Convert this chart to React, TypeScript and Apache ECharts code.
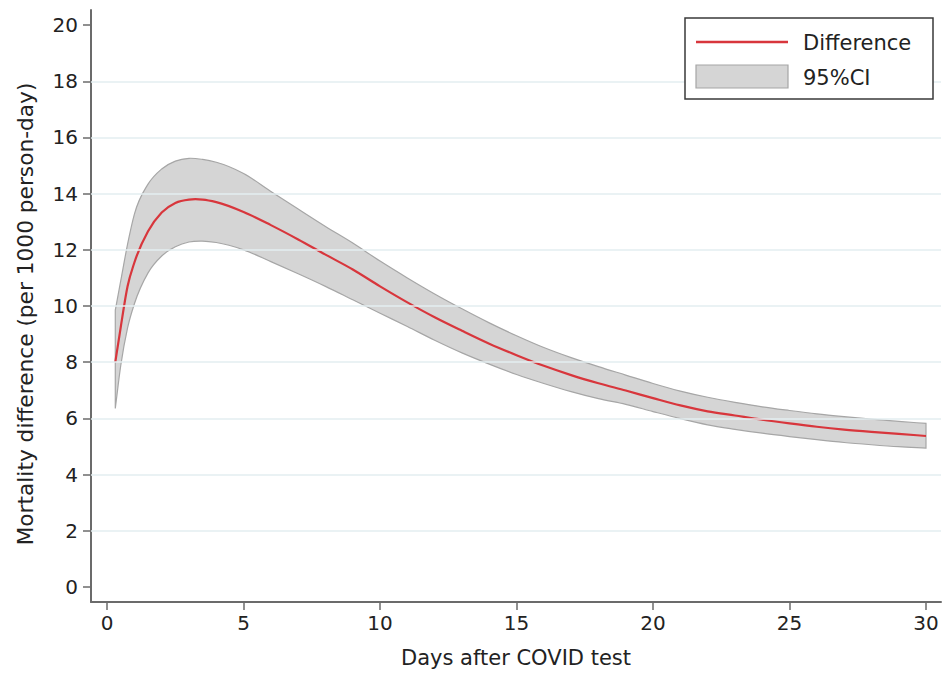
import React, { useEffect, useRef } from "react";
import * as echarts from "echarts";

const days = [0.3, 0.5, 0.75, 1, 1.5, 2, 2.5, 3, 3.5, 4, 5, 6, 7, 8, 9, 10, 11, 12, 13, 14, 15, 16, 17, 18, 19, 20, 21, 22, 23, 24, 25, 26, 27, 28, 29, 30];
const difference = [8.0, 9.25, 10.7, 11.55, 12.66, 13.33, 13.67, 13.79, 13.79, 13.7, 13.35, 12.88, 12.37, 11.83, 11.3, 10.7, 10.13, 9.6, 9.12, 8.66, 8.25, 7.87, 7.54, 7.25, 6.99, 6.72, 6.46, 6.25, 6.1, 5.95, 5.82, 5.7, 5.6, 5.52, 5.45, 5.37];
const ciUpper = [9.85, 10.9, 12.2, 13.27, 14.34, 14.88, 15.16, 15.26, 15.22, 15.12, 14.72, 14.08, 13.45, 12.83, 12.24, 11.6, 11.0, 10.43, 9.9, 9.4, 8.94, 8.52, 8.16, 7.84, 7.54, 7.24, 6.97, 6.75, 6.57, 6.41, 6.28, 6.16, 6.06, 5.97, 5.89, 5.82];
const ciLower = [6.35, 7.88, 9.22, 10.08, 11.18, 11.78, 12.11, 12.28, 12.31, 12.26, 12.0, 11.58, 11.15, 10.7, 10.22, 9.74, 9.27, 8.78, 8.33, 7.93, 7.56, 7.24, 6.95, 6.7, 6.5, 6.24, 5.99, 5.77, 5.61, 5.47, 5.35, 5.24, 5.14, 5.06, 4.99, 4.94];
const xTicks = [0, 5, 10, 15, 20, 25, 30];
const yTicks = [0, 2, 4, 6, 8, 10, 12, 14, 16, 18, 20];
const gridValues = [2, 4, 6, 8, 10, 12, 14, 16, 18];
const seriesNames = ["Difference", "95%CI"];

const FONT = "DejaVu Sans";
const AXIS_COLOR = "#6b6b6b";
const TEXT_COLOR = "#222222";
const RED = "#d8363c";
const BAND_FILL = "#d5d5d5";
const BAND_EDGE = "#a6a6a6";

type Pt = [number, number];

// Smooth (Hermite, x-parameterised) path segments through pixel points.
function smoothSegments(pts: Pt[]): string {
  const n = pts.length;
  const m: number[] = new Array(n);
  for (let i = 0; i < n; i++) {
    if (i === 0) {
      m[i] = (pts[1][1] - pts[0][1]) / (pts[1][0] - pts[0][0]);
    } else if (i === n - 1) {
      m[i] = (pts[n - 1][1] - pts[n - 2][1]) / (pts[n - 1][0] - pts[n - 2][0]);
    } else {
      const h0 = pts[i][0] - pts[i - 1][0];
      const h1 = pts[i + 1][0] - pts[i][0];
      const s0 = (pts[i][1] - pts[i - 1][1]) / h0;
      const s1 = (pts[i + 1][1] - pts[i][1]) / h1;
      m[i] = (s0 * h1 + s1 * h0) / (h0 + h1);
    }
  }
  let d = "";
  for (let i = 0; i < n - 1; i++) {
    const [x0, y0] = pts[i];
    const [x1, y1] = pts[i + 1];
    const h = x1 - x0;
    const c1x = x0 + h / 3;
    const c1y = y0 + (m[i] * h) / 3;
    const c2x = x1 - h / 3;
    const c2y = y1 - (m[i + 1] * h) / 3;
    d += ` C ${c1x} ${c1y} ${c2x} ${c2y} ${x1} ${y1}`;
  }
  return d;
}

export default function App() {
  const ref = useRef<HTMLDivElement>(null);

  useEffect(() => {
    if (!ref.current) return;
    const chart = echarts.init(ref.current, undefined, { renderer: "svg" });

    const option: any = {
      animation: false,
      backgroundColor: "#ffffff",
      grid: { left: 91, right: 7, top: 10, bottom: 70, containLabel: false },
      xAxis: {
        type: "value",
        min: -0.59,
        max: 30.55,
        name: "Days after COVID test",
        nameLocation: "middle",
        nameGap: 45,
        nameTextStyle: { fontFamily: FONT, fontSize: 21, color: TEXT_COLOR },
        axisLine: { show: true, onZero: false, lineStyle: { color: AXIS_COLOR, width: 2 } },
        axisTick: { show: true, length: 8, customValues: xTicks, lineStyle: { color: AXIS_COLOR, width: 1.5 } },
        axisLabel: { customValues: xTicks, fontFamily: FONT, fontSize: 20, color: TEXT_COLOR, margin: 11 },
        splitLine: { show: false },
      },
      yAxis: {
        type: "value",
        min: -0.54,
        max: 20.54,
        name: "Mortality difference (per 1000 person-day)",
        nameLocation: "middle",
        nameRotate: 90,
        nameGap: 55,
        nameTextStyle: { fontFamily: FONT, fontSize: 21.7, color: TEXT_COLOR, padding: [0, 16, 0, 0] },
        axisLine: { show: true, onZero: false, lineStyle: { color: AXIS_COLOR, width: 2 } },
        axisTick: { show: true, length: 8, customValues: yTicks, lineStyle: { color: AXIS_COLOR, width: 1.5 } },
        axisLabel: { customValues: yTicks, fontFamily: FONT, fontSize: 20, color: TEXT_COLOR, margin: 13 },
        splitLine: { show: false },
      },
      graphic: [
        { type: "rect", z: 100, shape: { x: 685, y: 18, width: 248, height: 81 }, style: { fill: "#ffffff", stroke: "#3a3a3a", lineWidth: 1.5 } },
        { type: "line", z: 101, shape: { x1: 696, y1: 42, x2: 788, y2: 42 }, style: { stroke: RED, lineWidth: 2.5 } },
        { type: "rect", z: 101, shape: { x: 696, y: 65, width: 92, height: 23 }, style: { fill: BAND_FILL, stroke: BAND_EDGE, lineWidth: 1.2 } },
        { type: "text", z: 101, x: 803, y: 43, style: { text: seriesNames[0], font: `21px "${FONT}"`, fill: TEXT_COLOR, verticalAlign: "middle" } },
        { type: "text", z: 101, x: 803, y: 78, style: { text: seriesNames[1], font: `21px "${FONT}"`, fill: TEXT_COLOR, verticalAlign: "middle" } },
      ],
      series: [
        {
          name: "grid",
          type: "line",
          z: 1,
          data: [],
          silent: true,
          markLine: {
            silent: true,
            symbol: ["none", "none"],
            label: { show: false },
            lineStyle: { color: "#e3eef1", width: 1.5, type: "solid" },
            data: gridValues.map((v) => ({ yAxis: v })),
          },
        },
        {
          name: seriesNames[1],
          type: "custom",
          z: 2,
          silent: true,
          encode: { x: 0, y: [1, 2] },
          data: days.map((d, i) => [d, ciLower[i], ciUpper[i]]),
          renderItem: (params: any, api: any) => {
            if (params.dataIndex !== 0) return null;
            const up: Pt[] = days.map((d, i) => api.coord([d, ciUpper[i]]) as Pt);
            const lo: Pt[] = days.map((d, i) => api.coord([d, ciLower[i]]) as Pt).reverse();
            const upPath = `M ${up[0][0]} ${up[0][1]}` + smoothSegments(up);
            const loPath = ` L ${lo[0][0]} ${lo[0][1]}` + smoothSegments(lo);
            return {
              type: "path",
              shape: { pathData: upPath + loPath + " Z" },
              style: { fill: BAND_FILL, stroke: BAND_EDGE, lineWidth: 1.2 },
            };
          },
        },
        {
          name: seriesNames[0],
          type: "custom",
          z: 4,
          silent: true,
          encode: { x: 0, y: 1 },
          data: days.map((d, i) => [d, difference[i]]),
          renderItem: (params: any, api: any) => {
            if (params.dataIndex !== 0) return null;
            const pts: Pt[] = days.map((d, i) => api.coord([d, difference[i]]) as Pt);
            return {
              type: "path",
              shape: { pathData: `M ${pts[0][0]} ${pts[0][1]}` + smoothSegments(pts) },
              style: { fill: "none", stroke: RED, lineWidth: 2.2 },
            };
          },
        },
      ],
    };

    chart.setOption(option);
    return () => chart.dispose();
  }, []);

  return (
    <div
      ref={ref}
      style={{ position: "fixed", left: 0, top: 0, width: 948, height: 673, background: "#fff" }}
    />
  );
}
